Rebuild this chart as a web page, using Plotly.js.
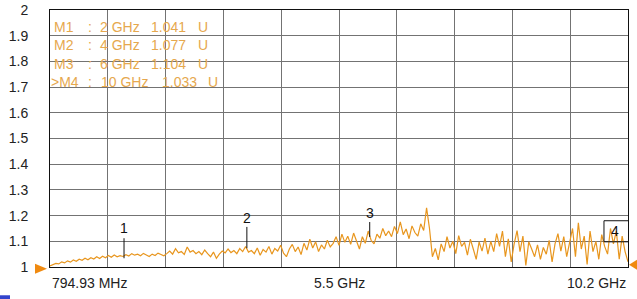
<!DOCTYPE html>
<html>
<head>
<meta charset="utf-8">
<script src="https://cdn.plot.ly/plotly-3.0.1.min.js"></script>
<style>
html,body{margin:0;padding:0;background:#fff;}
#chart{width:637px;height:299px;}
</style>
</head>
<body>
<div id="chart"></div>
<script>
// Sweep definition (GHz)
var startGHz = 0.79493;
var stopGHz = 10.20507;

// VSWR trace values (U)
var vswr = [
  1.004,1.010,1.014,1.012,1.020,1.016,1.024,1.019,1.027,1.022,1.030,1.026,1.034,1.028,1.036,1.031,1.040,1.033,1.042,1.036,1.045,1.038,1.047,1.040,1.044,1.041,
  1.048,1.043,1.052,1.046,1.050,1.044,1.053,1.047,1.041,1.050,1.045,1.054,1.048,1.044,1.052,1.062,1.050,1.071,1.055,1.060,1.049,1.078,1.058,1.064,1.052,
  1.060,1.048,1.066,1.052,1.040,1.058,1.034,1.050,1.062,1.055,1.070,1.056,1.064,1.052,1.072,1.060,1.080,1.058,
  1.064,1.052,1.074,1.046,1.068,1.058,1.080,1.050,1.072,1.062,1.085,1.054,1.040,1.070,1.088,1.060,1.078,1.048,1.092,1.066,1.108,1.074,1.098,1.060,1.086,1.070,1.104,1.078,1.092,1.118,1.084,1.128,
  1.096,1.120,1.088,1.132,1.100,1.070,1.118,1.092,1.140,1.104,
  1.090,1.128,1.112,1.150,1.122,1.140,1.118,1.158,1.130,1.176,1.126,1.148,1.110,1.160,1.134,1.120,1.168,1.142,1.230,1.150,
  1.040,1.072,1.028,1.090,1.060,1.118,1.074,1.100,1.052,1.122,1.080,1.096,1.046,1.108,1.070,1.030,1.098,1.062,1.112,1.050,
  1.100,1.060,1.130,1.080,1.140,1.040,1.110,1.020,1.090,1.142,1.060,1.120,1.006,1.098,1.070,1.040,1.086,1.030,1.076,1.050,1.104,1.020,1.090,1.130,1.062,1.118,1.040,1.100,
  1.150,1.040,1.172,1.070,1.120,1.010,1.140,1.060,1.100,1.030,1.126,1.080,1.050,1.150,1.090,1.140,1.030,1.120,1.060,1.020
];

// Markers
var markerNames = ["M1", "M2", "M3", ">M4"];
var markerIds = ["1", "2", "3", "4"];
var markerFreq = [2, 4, 6, 10];
var markerVal = [1.041, 1.077, 1.104, 1.033];

// Axis labels
var yTickVals = [1, 1.1, 1.2, 1.3, 1.4, 1.5, 1.6, 1.7, 1.8, 1.9, 2];
var yTickText = ["1", "1.1", "1.2", "1.3", "1.4", "1.5", "1.6", "1.7", "1.8", "1.9", "2"];
var xLabelText = ["794.93 MHz", "5.5 GHz", "10.2 GHz"];
var xLabelFreq = [0.79493, 5.5, 10.20507];

// frequency grid of the sweep
var freq = [];
for (var i = 0; i < vswr.length; i++) {
  freq.push(startGHz + (stopGHz - startGHz) * i / (vswr.length - 1));
}
var span = stopGHz - startGHz;
var xGrid = [];
for (var k = 0; k <= 10; k++) xGrid.push(startGHz + span * k / 10);

var orange = '#E8961E';
var textOrange = '#E6A84E';
var FONT = 'Liberation Sans, Arial, sans-serif';

var traces = [
  {x: freq, y: vswr, type: 'scatter', mode: 'lines', line: {color: orange, width: 1.2}, hoverinfo: 'skip'},
  {x: markerFreq, y: markerFreq.map(function(){return 0.977;}), type: 'scatter', mode: 'markers',
   marker: {symbol: 'triangle-up', size: 11, color: '#000'}, cliponaxis: false, hoverinfo: 'skip'}
];

var annotations = [];
var shapes = [];

// marker readout text (column positions in plot-fraction units)
function px(p) { return (p - 50) / 578; }
for (var m = 0; m < markerNames.length; m++) {
  var yp = 0.935 - m * 0.072;
  var last = (m === 3);
  var f = {family: FONT, size: 14, color: textOrange};
  var cols = [
    [last ? 50 : 53, markerNames[m]],
    [87, ':'],
    [last ? 100 : 99, markerFreq[m] + ' GHz'],
    [last ? 161 : 150, markerVal[m].toFixed(3)],
    [last ? 207 : 197, 'U']
  ];
  cols.forEach(function(c) {
    annotations.push({xref: 'paper', yref: 'paper', x: px(c[0]), y: yp, xanchor: 'left', yanchor: 'middle',
      text: c[1], showarrow: false, font: f, borderpad: 0});
  });
}

// marker id labels and leader lines
var labelY = [1.15, 1.19, 1.21];
var lineTop = [1.112, 1.156, 1.175];
var lineBot = [1.034, 1.073, 1.117];
for (var j = 0; j < 3; j++) {
  annotations.push({x: markerFreq[j], y: labelY[j], text: markerIds[j], showarrow: false,
    font: {family: FONT, size: 14, color: '#111'}, yanchor: 'middle'});
  shapes.push({type: 'line', x0: markerFreq[j], x1: markerFreq[j], y0: lineBot[j], y1: lineTop[j], line: {color: '#111', width: 1}});
}
// marker 4 boxed
annotations.push({x: markerFreq[3], y: 1.139, text: markerIds[3], showarrow: false,
  font: {family: FONT, size: 14, color: '#111'}, yanchor: 'middle'});
shapes.push({type: 'rect', x0: 9.814, x1: 10.22, y0: 1.098, y1: 1.18, line: {color: '#111', width: 1}});

// x axis labels
var xAnchors = ['left', 'center', 'right'];
for (var t = 0; t < xLabelText.length; t++) {
  annotations.push({x: xLabelFreq[t], yref: 'paper', y: -0.025, xanchor: xAnchors[t], yanchor: 'top', text: xLabelText[t], showarrow: false,
    font: {family: FONT, size: 14, color: '#222'}});
}

// reference-level triangles (paper coords)
function P(xp, yp) { return px(xp).toFixed(5) + ',' + ((266.7 - yp) / 256.7).toFixed(5); }
shapes.push({type: 'path', xref: 'paper', yref: 'paper',
  path: 'M' + P(35, 263.5) + ' L' + P(47, 268.5) + ' L' + P(35, 273.5) + ' Z', fillcolor: '#F08A10', line: {width: 0}});
shapes.push({type: 'path', xref: 'paper', yref: 'paper',
  path: 'M' + P(637, 259.5) + ' L' + P(629, 264.5) + ' L' + P(637, 269.5) + ' Z', fillcolor: '#F08A10', line: {width: 0}});

// small center dash
shapes.push({type: 'line', x0: 5.44, x1: 5.63, y0: 0.996, y1: 0.996, line: {color: '#111', width: 1.5}});
// small blue mark in corner
shapes.push({type: 'rect', xref: 'paper', yref: 'paper', x0: px(0), x1: px(10), y0: -0.11, y1: -0.14, fillcolor: '#3344cc', line: {width: 0}});

var layout = {
  width: 637, height: 299,
  margin: {l: 50, r: 9, t: 10, b: 32},
  paper_bgcolor: '#fff', plot_bgcolor: '#fff',
  showlegend: false,
  xaxis: {range: [startGHz, stopGHz], tickvals: xGrid, showticklabels: false, showgrid: true, gridcolor: '#737373', gridwidth: 1,
    zeroline: false, showline: true, linecolor: '#111', linewidth: 1, mirror: true, ticks: ''},
  yaxis: {range: [1, 2], tickvals: yTickVals, ticktext: yTickText, showgrid: true, gridcolor: '#737373', gridwidth: 1,
    zeroline: false, showline: true, linecolor: '#111', linewidth: 1, mirror: true, ticks: '', ticklabelstandoff: 18,
    tickfont: {family: FONT, size: 14, color: '#222'}},
  annotations: annotations,
  shapes: shapes
};

Plotly.newPlot('chart', traces, layout, {staticPlot: true, displayModeBar: false});
</script>
</body>
</html>
